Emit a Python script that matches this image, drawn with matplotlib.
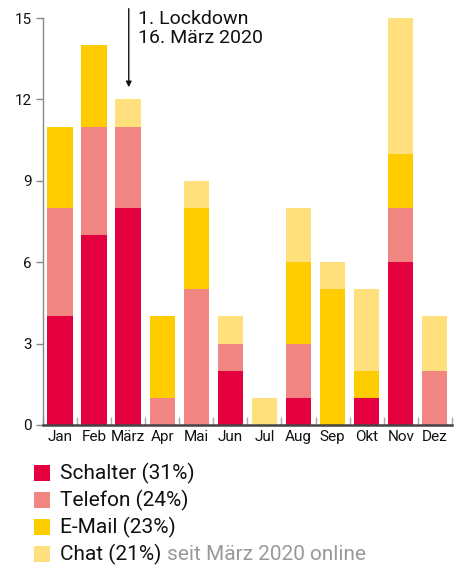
import matplotlib.pyplot as plt
import matplotlib.patches as mpatches
import numpy as np

plt.rcParams['font.family'] = ['Roboto', 'DejaVu Sans']

months = ["Jan", "Feb", "März", "Apr", "Mai", "Jun", "Jul", "Aug", "Sep", "Okt", "Nov", "Dez"]
schalter = [4, 7, 8, 0, 0, 2, 0, 1, 0, 1, 6, 0]
telefon = [4, 4, 3, 1, 5, 1, 0, 2, 0, 0, 2, 2]
email = [3, 3, 0, 3, 3, 0, 0, 3, 5, 1, 2, 0]
chat = [0, 0, 1, 0, 1, 1, 1, 2, 1, 3, 5, 2]

labels = ["Schalter (31%)", "Telefon (24%)", "E-Mail (23%)", "Chat (21%)"]
colors = ["#e4003f", "#f08582", "#ffcc00", "#ffe07d"]
yticks = [0, 3, 6, 9, 12, 15]

fig = plt.figure(figsize=(4.56, 5.65), dpi=100)
ax = fig.add_axes([0.094, 0.248, 0.897, 0.72])

x = np.arange(len(months))
bottom = np.zeros(len(months))
for vals, c in zip([schalter, telefon, email, chat], colors):
    ax.bar(x, vals, bottom=bottom, width=0.74, color=c, linewidth=0, zorder=2)
    bottom += np.array(vals)

ax.set_xlim(-0.5, 11.5)
ax.set_ylim(0, 15)
ax.set_yticks(yticks)
ax.set_xticks(x)
ax.set_xticklabels(months)
ax.set_xticks(np.arange(-0.5, 12, 1), minor=True)

ax.spines['top'].set_visible(False)
ax.spines['right'].set_visible(False)
ax.spines['left'].set_color('#888888')
ax.spines['left'].set_linewidth(1)
ax.spines['bottom'].set_color('#444444')
ax.spines['bottom'].set_linewidth(1.8)
ax.spines['bottom'].set_zorder(3)

ax.tick_params(axis='y', direction='out', length=5, width=1, color='#888888',
               labelsize=11, labelcolor='#111111', pad=3)
ax.tick_params(axis='x', which='major', length=0, labelsize=11, labelcolor='#111111', pad=4)
ax.tick_params(axis='x', which='minor', direction='in', length=6, width=1, color='#aaaaaa')

# Lockdown marker
ax.annotate("", xy=(2.02, 12.35), xytext=(2.02, 15.45), xycoords='data',
            arrowprops=dict(arrowstyle='-|>', color='#111111', lw=1, mutation_scale=8),
            annotation_clip=False)
ax.text(2.3, 15.28, "1. Lockdown\n16. März 2020", fontsize=14, color='#111111',
        va='top', ha='left', linespacing=1.05)

# Legend
row_y = [473, 500, 527, 554]
for lab, c, yy in zip(labels, colors, row_y):
    yf = 1 - yy / 565
    fig.patches.append(mpatches.Rectangle((34 / 456, yf - 8 / 565), 16 / 456, 16 / 565,
                                          transform=fig.transFigure, color=c, linewidth=0))
    t = fig.text(60 / 456, yf, lab, fontsize=15, color='#111111', va='center', ha='left')

fig.canvas.draw()
bb = t.get_window_extent().transformed(fig.transFigure.inverted())
fig.text(bb.x1 + 6 / 456, 1 - row_y[-1] / 565, "seit März 2020 online", fontsize=15,
         color='#999999', va='center', ha='left')

plt.savefig("out.png", dpi=100)
